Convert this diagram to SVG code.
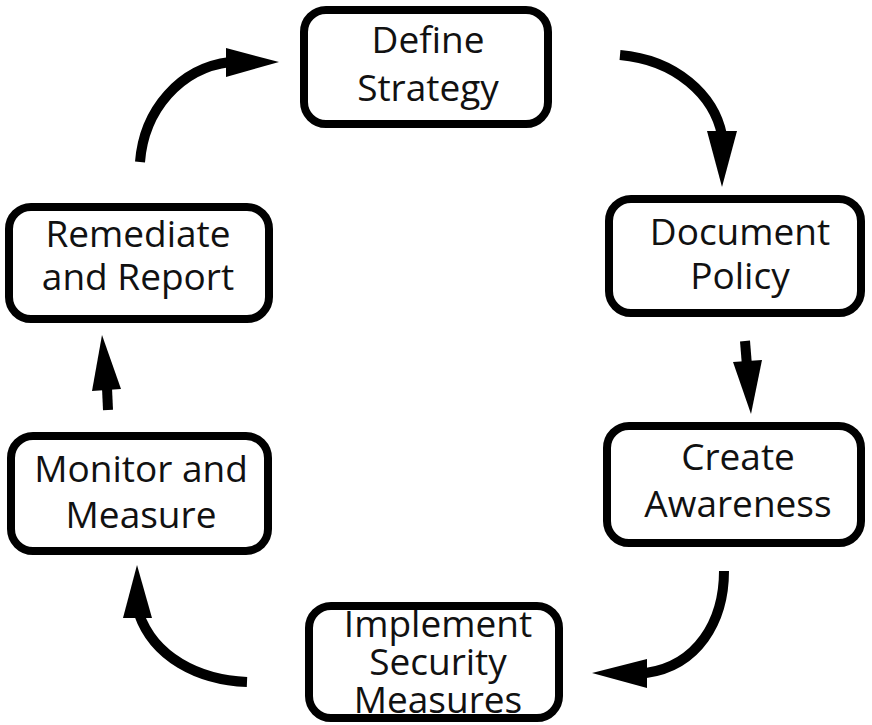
<svg xmlns="http://www.w3.org/2000/svg" width="872" height="725" viewBox="0 0 872 725">
  <style>
    .box { fill: #ffffff; stroke: #000000; stroke-width: 8; }
    .label { font-family: "Open Sans", "Noto Sans", sans-serif; font-size: 37px; fill: #111111; text-anchor: middle; }
    .shaft { fill: none; stroke: #000000; stroke-width: 10; }
    .head { fill: #000000; stroke: none; }
  </style>
  <rect width="872" height="725" fill="#ffffff"/>

  <!-- cycle connectors -->
  <g id="connectors">
    <!-- Define Strategy -> Document Policy -->
    <path class="shaft" d="M620,55 C676,60 714,95 722,135"/>
    <polygon class="head" points="707,131 737,131 722,187"/>
    <!-- Document Policy -> Create Awareness -->
    <path class="shaft" d="M745,341 L747,366" stroke-width="11"/>
    <polygon class="head" points="733,362 762,360 751,414"/>
    <!-- Create Awareness -> Implement Security Measures -->
    <path class="shaft" d="M724,571 C724,622 697,666 646,673"/>
    <polygon class="head" points="647,659 647,688 592,673"/>
    <!-- Implement Security Measures -> Monitor and Measure -->
    <path class="shaft" d="M247,682 C198,680 154,657 139,614"/>
    <polygon class="head" points="123,618 152,618 137,565"/>
    <!-- Monitor and Measure -> Remediate and Report -->
    <path class="shaft" d="M108,410 L107,388" stroke-width="11"/>
    <polygon class="head" points="92,391 121,389 102,335"/>
    <!-- Remediate and Report -> Define Strategy -->
    <path class="shaft" d="M140,162 C144,110 180,68 230,62"/>
    <polygon class="head" points="226,48 279,62 226,77"/>
  </g>

  <g id="define-strategy">
    <rect class="box" x="304" y="10" width="244" height="114" rx="22"/>
    <text class="label" x="428" y="53">Define</text>
    <text class="label" x="428" y="101">Strategy</text>
  </g>

  <g id="document-policy">
    <rect class="box" x="609" y="199" width="252" height="114" rx="22"/>
    <text class="label" x="740" y="245">Document</text>
    <text class="label" x="740" y="289">Policy</text>
  </g>

  <g id="create-awareness">
    <rect class="box" x="607" y="426" width="254" height="117" rx="22"/>
    <text class="label" x="738" y="470">Create</text>
    <text class="label" x="738" y="517">Awareness</text>
  </g>

  <g id="implement-security-measures">
    <rect class="box" x="309" y="606" width="250" height="112" rx="22"/>
    <text class="label" x="438" y="637">Implement</text>
    <text class="label" x="438" y="675">Security</text>
    <text class="label" x="438" y="713">Measures</text>
  </g>

  <g id="monitor-and-measure">
    <rect class="box" x="11" y="436" width="257" height="115" rx="22"/>
    <text class="label" x="141" y="482">Monitor and</text>
    <text class="label" x="141" y="528">Measure</text>
  </g>

  <g id="remediate-and-report">
    <rect class="box" x="9" y="207" width="260" height="112" rx="22"/>
    <text class="label" x="138" y="247">Remediate</text>
    <text class="label" x="138" y="290">and Report</text>
  </g>
</svg>
